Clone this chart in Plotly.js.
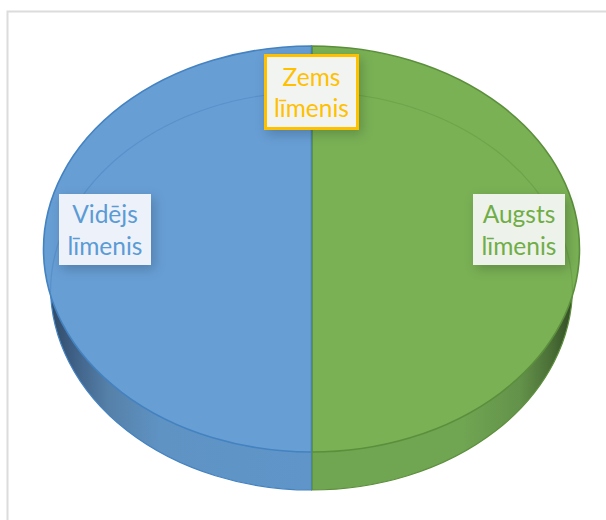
<!DOCTYPE html>
<html>
<head>
<meta charset="utf-8">
<script src="https://cdn.plot.ly/plotly-3.0.1.min.js"></script>
<style>
html,body{margin:0;padding:0;background:#fff;overflow:hidden;width:606px;height:520px}
.annotation rect.bg{filter:drop-shadow(3px 4px 6px rgba(0,0,0,.2))}
</style>
</head>
<body>
<div id="chart" style="width:606px;height:520px"></div>
<script>
const categories = ['Zems līmenis', 'Augsts līmenis', 'Vidējs līmenis'];
const values = [0, 50, 50];
const topColors = ['#ffc000', '#7ab155', '#679ed4'];
const edgeColors = ['#ffc000', '#5c8f3c', '#4482c0'];
const sideColors = ['#ffc000', '#70a552', '#5f95c9'];
const labelLines = ['Zems<br>līmenis', 'Augsts<br>līmenis', 'Vidējs<br>līmenis'];
const labelText = ['#ffc000', '#70ad47', '#5b9bd5'];
const labelBg = ['#f2f4f2', '#edf3ea', '#edf2fa'];

const W = 606, H = 520;
const px = x => x / W, py = y => 1 - y / H;

function pieTrace(colors, lineWidth) {
  return {
    type: 'pie', labels: categories, values: values, sort: false, direction: 'clockwise', rotation: 0,
    textinfo: 'none', hoverinfo: 'skip', showlegend: false,
    domain: {x: [0, 1], y: [0, 1]},
    marker: {colors: colors, line: {color: edgeColors, width: lineWidth}}
  };
}

function box(i, x0, x1, y0, y1, bw, bc) {
  return {
    xref: 'paper', yref: 'paper', x: px((x0 + x1) / 2), y: py((y0 + y1) / 2),
    xanchor: 'center', yanchor: 'middle', showarrow: false,
    text: labelLines[i], width: x1 - x0 - 2 * bw, height: y1 - y0 - 2 * bw, align: 'center', valign: 'middle',
    font: {family: 'Lato, Carlito, sans-serif', size: 24.5, color: labelText[i]},
    bgcolor: labelBg[i], borderwidth: bw, bordercolor: bc, borderpad: 0
  };
}

// faint bevel ring on the top face: cubic approximation of a quarter ellipse
function ringQuarter(cx, cy, rx, ry, sign) {
  const k = 0.5523;
  const p = (x, y) => px(x) + ',' + py(y);
  return 'M' + p(cx + sign * rx, cy) +
    ' C' + p(cx + sign * rx, cy - k * ry) + ' ' + p(cx + sign * k * rx, cy - ry) + ' ' + p(cx, cy - ry);
}

const divider = (x, y0, y1, color, width) => ({type: 'line', xref: 'paper', yref: 'paper',
  x0: px(x), x1: px(x), y0: py(y0), y1: py(y1), line: {color: color, width: width}, layer: 'above'});

const layout = {
  width: W, height: H, margin: {l: 0, r: 0, t: 0, b: 0, pad: 0},
  paper_bgcolor: '#ffffff', showlegend: false,
  shapes: [
    {type: 'rect', xref: 'paper', yref: 'paper', x0: px(7.5), x1: px(640), y0: py(11.5), y1: py(560),
     line: {color: '#dcdcdc', width: 2}, layer: 'below'},
    {type: 'path', xref: 'paper', yref: 'paper', path: ringQuarter(311.5, 292, 261, 200, -1),
     line: {color: 'rgba(40,100,170,0.22)', width: 1.2}, layer: 'above'},
    {type: 'path', xref: 'paper', yref: 'paper', path: ringQuarter(311.5, 292, 261, 200, 1),
     line: {color: 'rgba(70,120,40,0.22)', width: 1.2}, layer: 'above'},
    divider(312.2, 46, 490, '#5c8f3c', 1)
  ],
  annotations: [
    box(0, 264, 359, 54, 130, 3, '#ffc000'),
    box(2, 59, 151, 194, 265, 0, 'rgba(0,0,0,0)'),
    box(1, 473, 565, 194, 265, 0, 'rgba(0,0,0,0)')
  ]
};

const gd = document.getElementById('chart');
Plotly.newPlot(gd, [pieTrace(sideColors, 1.2), pieTrace(topColors, 1.6)], layout, {displayModeBar: false, staticPlot: true}).then(() => {
  const NS = 'http://www.w3.org/2000/svg';
  const svg = gd.querySelector('.main-svg');
  const defs = document.createElementNS(NS, 'defs');
  const addGrad = (id, stops) => {
    const g = document.createElementNS(NS, 'linearGradient');
    g.setAttribute('id', id);
    g.setAttribute('x1', '0'); g.setAttribute('x2', '1'); g.setAttribute('y1', '0'); g.setAttribute('y2', '0');
    stops.forEach(s => {
      const st = document.createElementNS(NS, 'stop');
      st.setAttribute('offset', s[0]); st.setAttribute('stop-color', s[1]);
      g.appendChild(st);
    });
    defs.appendChild(g);
  };
  addGrad('sideBlue', [[0, '#2f4a66'], [0.1, '#41638a'], [0.22, '#5580a8'], [0.42, '#5f93c4'], [1, '#5f95c9']]);
  addGrad('sideGreen', [[0, '#70a552'], [0.58, '#70a552'], [0.8, '#63924a'], [0.92, '#4a6e36'], [1, '#334c26']]);
  svg.insertBefore(defs, svg.firstChild);

  // each pie is a circle in the layout; lay it over to the tilted ellipse of the picture
  const R = 260, c0x = 303, c0y = 260;
  const place = (node, cx, cy, rx, ry) => {
    const a = rx / R, d = ry / R;
    node.setAttribute('transform', `matrix(${a} 0 0 ${d} ${cx - a * c0x} ${cy - d * c0y})`);
  };
  const traces = gd.querySelectorAll('.pielayer .trace');
  place(traces[0], 311.5, 287, 261, 203);
  place(traces[1], 311.5, 249, 268, 203);
  traces.forEach(t => t.querySelectorAll('path').forEach(p => p.setAttribute('vector-effect', 'non-scaling-stroke')));
  traces[0].querySelectorAll('path.surface').forEach(p => {
    const isLeft = p.__data__ && p.__data__.i === 2;
    p.style.fill = isLeft ? 'url(#sideBlue)' : 'url(#sideGreen)';
  });
});
</script>
</body>
</html>
